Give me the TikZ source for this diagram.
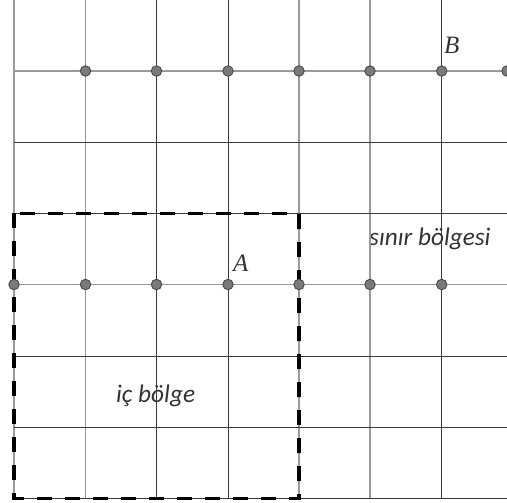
\documentclass[tikz,border=0pt]{standalone}
\usepackage{fontspec}
\setmainfont{Liberation Serif}
\newfontfamily\labelfont{Carlito}
\definecolor{gridlight}{HTML}{9A9A9A}
\definecolor{griddark}{HTML}{3A3A3A}
\definecolor{dotfill}{HTML}{7A7A7A}
\definecolor{dotedge}{HTML}{4A4A4A}
\definecolor{inktext}{HTML}{333333}
\begin{document}
\begin{tikzpicture}[x=1pt,y=-1pt,
  lightline/.style={draw=gridlight, line width=1.5pt},
  darkline/.style={draw=griddark, line width=0.9pt},
  region/.style={draw=black, line width=3.2pt, dash pattern=on 15pt off 13pt},
  latdot/.style={circle, fill=dotfill, draw=dotedge, line width=0.9pt,
                 minimum size=10.5pt, inner sep=0pt},
  pointlabel/.style={text=inktext, font=\fontsize{25}{25}\selectfont\itshape,
                     inner sep=0pt, anchor=base west},
  regionlabel/.style={text=inktext, font=\fontsize{25.3}{25.3}\selectfont\labelfont\itshape,
                      inner sep=0pt, anchor=base west}]
\useasboundingbox (0,0) rectangle (507,503);

% region labels (the grid is drawn over them)
\node[regionlabel] (outer) at (369,245) {sınır bölgesi};
\node[regionlabel] (inner) at (116,402) {iç bölge};
\node[pointlabel] (labA) at (233,272) {A};
\node[pointlabel] (labB) at (444,54) {B};

% grid end points
\foreach \i/\x in {0/14,1/85.5,2/156.5,3/228,4/299,5/370,6/441.7} {
  \coordinate (top-\i) at (\x,0);
  \coordinate (bot-\i) at (\x,499);
}
\foreach \j/\y in {1/71,2/142.3,3/213.3,4/284.5,5/356.3,6/427.7,7/498.7} {
  \coordinate (lft-\j) at (14,\y);
  \coordinate (rgt-\j) at (507,\y);
}

% vertical lines
\foreach \i in {0,1,4,5} \draw[lightline] (top-\i) -- (bot-\i);
\foreach \i in {2,3,6} \draw[darkline] (top-\i) -- (bot-\i);
% horizontal lines
\foreach \j in {1,4} \draw[lightline] (lft-\j) -- (rgt-\j);
\foreach \j in {2,3,5,6,7} \draw[darkline] (lft-\j) -- (rgt-\j);

% inner region boundary
\coordinate (reg-nw) at (14,213.3);
\coordinate (reg-se) at (299,498.7);
\draw[region] (reg-nw) rectangle (reg-se);

% lattice points on the two marked rows
\foreach \i/\x in {1/85.5,2/156.5,3/228,4/299,5/370,6/441.7,7/507}
  \node[latdot] (p1-\i) at (\x,71) {};
\foreach \i/\x in {0/14,1/85.5,2/156.5,3/228,4/299,5/370,6/441.7}
  \node[latdot] (p4-\i) at (\x,284.5) {};
\end{tikzpicture}
\end{document}
